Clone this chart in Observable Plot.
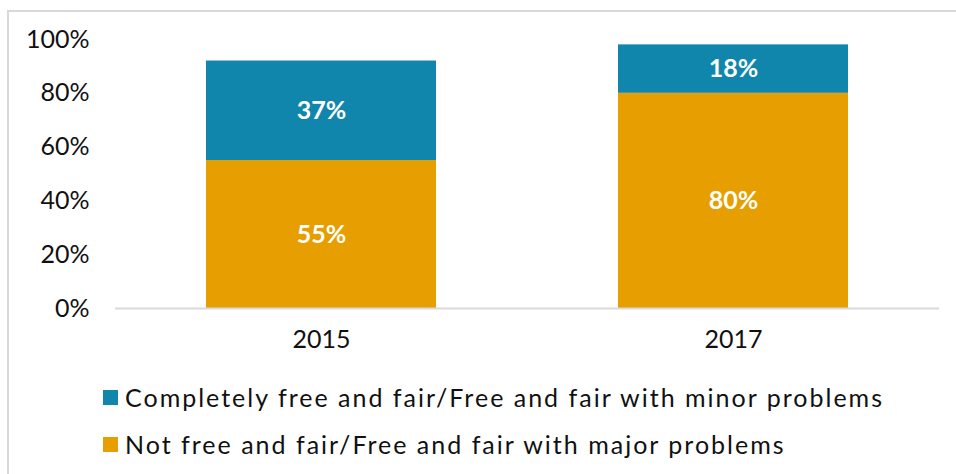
<!DOCTYPE html>
<html>
<head>
<meta charset="utf-8">
<script src="https://cdn.jsdelivr.net/npm/d3@7"></script>
<script src="https://cdn.jsdelivr.net/npm/@observablehq/plot@0.6"></script>
<style>
  body { margin: 0; background: #fff; font-family: Lato, "Noto Sans", sans-serif; }
  #wrap { position: relative; width: 956px; height: 474px; overflow: hidden; }
  #frame { position: absolute; left: 7px; top: 10px; width: 1000px; height: 600px; border: 2px solid #d9d9d9; box-sizing: border-box; }
  #chart { position: absolute; left: 0; top: 0; }
  .leg { position: absolute; left: 103px; display: flex; align-items: center; font-size: 25px; color: #111; white-space: nowrap; }
  .leg .txt { letter-spacing: 2px; }
  .sw { width: 15px; height: 15px; margin-right: 7px; flex: none; }
</style>
</head>
<body>
<div id="wrap">
  <div id="frame"></div>
  <div id="chart"></div>
  <div id="legend"></div>
</div>
<script>
const years = ["2015", "2017"];
const seriesNames = [
  "Not free and fair/Free and fair with major problems",
  "Completely free and fair/Free and fair with minor problems"
];
const notFreeValues = [0.55, 0.80];
const freeValues = [0.37, 0.18];
const colors = ["#e69e00", "#1186ad"];
const yTicks = [0, 0.2, 0.4, 0.6, 0.8, 1.0];

const data = [];
years.forEach((yr, i) => {
  data.push({year: yr, series: seriesNames[0], value: notFreeValues[i]});
  data.push({year: yr, series: seriesNames[1], value: freeValues[i]});
});

const plot = Plot.plot({
  width: 956,
  height: 365,
  marginLeft: 115,
  marginRight: 17,
  marginTop: 39,
  marginBottom: 57,
  style: { fontFamily: "Lato, 'Noto Sans', sans-serif", fontSize: "25px", color: "#111", background: "transparent" },
  x: { domain: years, paddingInner: 0.442, paddingOuter: 0.221, label: null, tickSize: 0, tickPadding: 22 },
  y: { domain: [0, 1], ticks: yTicks, tickFormat: d => Math.round(d * 100) + "%", label: null, tickSize: 0, tickPadding: 26 },
  color: { domain: seriesNames, range: colors },
  marks: [
    Plot.barY(data, Plot.stackY({x: "year", y: "value", fill: "series", order: seriesNames})),
    Plot.ruleY([0], {stroke: "#d9d9d9", strokeWidth: 2}),
    Plot.text(data, Plot.stackY({x: "year", y: "value", z: "series", order: seriesNames,
      text: d => Math.round(d.value * 100) + "%", fill: "white", fontWeight: "bold", fontSize: 25}))
  ]
});
document.getElementById("chart").appendChild(plot);

const legend = document.getElementById("legend");
const legendRows = [
  {name: seriesNames[1], color: colors[1], top: 382},
  {name: seriesNames[0], color: colors[0], top: 429}
];
legendRows.forEach(r => {
  const row = document.createElement("div");
  row.className = "leg";
  row.style.top = r.top + "px";
  row.style.height = "30px";
  const sw = document.createElement("span");
  sw.className = "sw";
  sw.style.background = r.color;
  const t = document.createElement("span");
  t.className = "txt";
  t.textContent = r.name;
  row.appendChild(sw);
  row.appendChild(t);
  legend.appendChild(row);
});
</script>
</body>
</html>
